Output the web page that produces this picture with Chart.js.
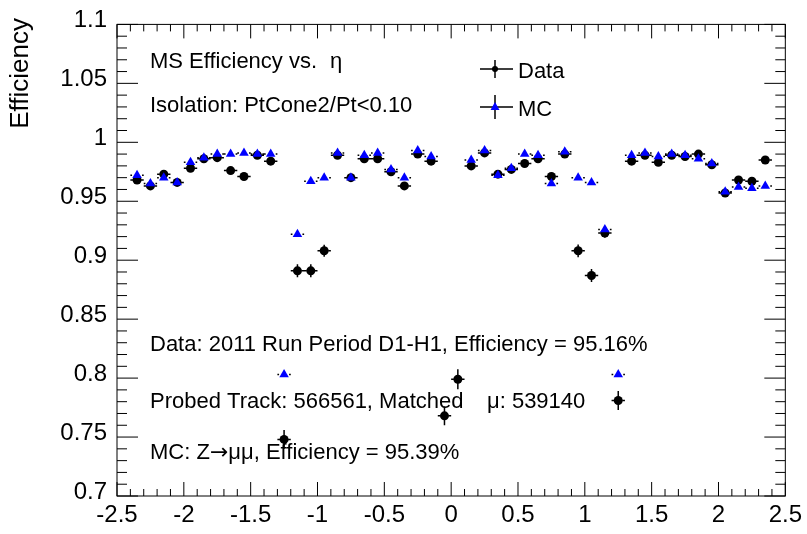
<!DOCTYPE html>
<html>
<head>
<meta charset="utf-8">
<script src="https://cdn.jsdelivr.net/npm/chart.js@4"></script>
<style>
    body { margin: 0; background: #fff; }
    #wrap { width: 807px; height: 534px; position: relative; }
</style>
</head>
<body>
<div id="wrap"><canvas id="effChart"></canvas></div>
<script>
// eta bin centres
const etaBins = [-2.35, -2.25, -2.15, -2.05, -1.95, -1.85, -1.75, -1.65, -1.55, -1.45, -1.35, -1.25,
    -1.15, -1.05, -0.95, -0.85, -0.75, -0.65, -0.55, -0.45, -0.35, -0.25, -0.15, -0.05,
    0.05, 0.15, 0.25, 0.35, 0.45, 0.55, 0.65, 0.75, 0.85, 0.95, 1.05, 1.15,
    1.25, 1.35, 1.45, 1.55, 1.65, 1.75, 1.85, 1.95, 2.05, 2.15, 2.25, 2.35];
const binHalfWidth = 0.05;

// Data efficiency and its error
const dataEff = [0.968, 0.963, 0.973, 0.966, 0.978, 0.986, 0.987, 0.976, 0.971, 0.989, 0.984, 0.748,
    0.891, 0.891, 0.908, 0.989, 0.970, 0.986, 0.986, 0.975, 0.963, 0.990, 0.984, 0.768,
    0.799, 0.980, 0.991, 0.973, 0.977, 0.982, 0.986, 0.971, 0.990, 0.908, 0.887, 0.923,
    0.781, 0.984, 0.989, 0.983, 0.989, 0.988, 0.990, 0.981, 0.957, 0.968, 0.967, 0.985];
const dataErr = [0.003, 0.003, 0.003, 0.003, 0.002, 0.002, 0.002, 0.002, 0.002, 0.002, 0.002, 0.008,
    0.0055, 0.0055, 0.005, 0.002, 0.002, 0.002, 0.002, 0.002, 0.003, 0.002, 0.002, 0.008,
    0.0085, 0.002, 0.002, 0.002, 0.002, 0.002, 0.002, 0.002, 0.002, 0.0054, 0.0055, 0.004,
    0.008, 0.002, 0.002, 0.002, 0.002, 0.002, 0.002, 0.002, 0.003, 0.003, 0.003, 0.002];

// MC efficiency (no entries in the two central bins)
const mcEff = [0.972, 0.965, 0.970, 0.966, 0.983, 0.987, 0.990, 0.990, 0.991, 0.990, 0.990, 0.803,
    0.922, 0.967, 0.970, 0.991, 0.970, 0.989, 0.991, 0.977, 0.970, 0.993, 0.988, null,
    null, 0.985, 0.993, 0.972, 0.978, 0.990, 0.989, 0.965, 0.992, 0.970, 0.966, 0.926,
    0.803, 0.989, 0.991, 0.988, 0.990, 0.989, 0.986, 0.982, 0.958, 0.962, 0.961, 0.963];

const xMin = -2.5, xMax = 2.5;
const yMin = 0.7, yMax = 1.1;

const FONT = '"Liberation Sans", Arial, Helvetica, sans-serif';
const SYMBOL_FONT = '"DejaVu Sans", sans-serif';

// each line is a list of [text, font] pieces, drawn one after another
const textLines = [
    { x: 150, y: 68, parts: [['MS Efficiency vs.', FONT]] },
    { x: 330, y: 68, parts: [['η', FONT]] },
    { x: 150, y: 112, parts: [['Isolation: PtCone2/Pt<0.10', FONT]] },
    { x: 150, y: 351, parts: [['Data: 2011 Run Period D1-H1, Efficiency = 95.16%', FONT]] },
    { x: 150, y: 408, parts: [['Probed Track: 566561, Matched', FONT]] },
    { x: 487, y: 408, parts: [['μ: 539140', FONT]] },
    { x: 150, y: 459, parts: [['MC: Z', FONT], ['→', SYMBOL_FONT], ['μμ, Efficiency = 95.39%', FONT]] }
];

// ROOT-like frame with inward ticks on all four sides
const framePlugin = {
    id: 'frame',
    afterDraw(chart) {
        const { ctx, chartArea: a, scales: { x, y } } = chart;
        ctx.save();
        ctx.strokeStyle = '#000';
        ctx.lineWidth = 1;
        ctx.strokeRect(a.left, a.top, a.right - a.left, a.bottom - a.top);
        ctx.beginPath();
        for (let i = 0; i <= 50; i++) {
            const px = x.getPixelForValue(xMin + i * 0.1);
            const len = i % 5 === 0 ? 14 : 7;
            ctx.moveTo(px, a.bottom); ctx.lineTo(px, a.bottom - len);
            ctx.moveTo(px, a.top); ctx.lineTo(px, a.top + len);
        }
        for (let i = 0; i <= 40; i++) {
            const py = y.getPixelForValue(yMin + i * 0.01);
            const len = i % 5 === 0 ? 21 : 10;
            ctx.moveTo(a.left, py); ctx.lineTo(a.left + len, py);
            ctx.moveTo(a.right, py); ctx.lineTo(a.right - len, py);
        }
        ctx.stroke();

        // y axis title, top aligned like ROOT
        ctx.fillStyle = '#000';
        ctx.font = '26px ' + FONT;
        ctx.translate(21, 18);
        ctx.rotate(-Math.PI / 2);
        ctx.textAlign = 'right';
        ctx.textBaseline = 'middle';
        ctx.fillText('Efficiency', 0, 0);
        ctx.restore();

        // text annotations
        ctx.save();
        ctx.fillStyle = '#000';
        ctx.textBaseline = 'alphabetic';
        textLines.forEach(line => {
            let cx = line.x;
            line.parts.forEach(([txt, fam]) => {
                ctx.font = '22px ' + fam;
                ctx.fillText(txt, cx, line.y);
                cx += ctx.measureText(txt).width;
            });
        });

        // legend
        const drawEntry = (cy, label, isMC) => {
            ctx.strokeStyle = '#000';
            ctx.lineWidth = 1.5;
            ctx.beginPath();
            ctx.moveTo(480, cy); ctx.lineTo(513, cy);
            ctx.moveTo(495, cy - (isMC ? 12 : 9)); ctx.lineTo(495, cy + (isMC ? 12 : 9));
            ctx.stroke();
            ctx.fillStyle = isMC ? '#0000ff' : '#000';
            ctx.beginPath();
            if (isMC) {
                ctx.moveTo(495, cy - 5); ctx.lineTo(499.5, cy + 3); ctx.lineTo(490.5, cy + 3);
                ctx.closePath();
            } else {
                ctx.arc(495, cy, 3, 0, Math.PI * 2);
            }
            ctx.fill();
            ctx.fillStyle = '#000';
            ctx.font = '22px ' + FONT;
            ctx.fillText(label, 518, cy + 9);
        };
        drawEntry(69, 'Data', false);
        drawEntry(107, 'MC', true);
        ctx.restore();
    }
};

// error bars: full bin width horizontally, stat error vertically for data
const errorBarPlugin = {
    id: 'errorBars',
    beforeDatasetsDraw(chart) {
        const { ctx, scales: { x, y } } = chart;
        ctx.save();
        ctx.strokeStyle = '#000';
        ctx.lineWidth = 1.5;
        ctx.beginPath();
        const gap = 4;
        etaBins.forEach((eta, i) => {
            const cx = x.getPixelForValue(eta);
            const x1 = x.getPixelForValue(eta - binHalfWidth);
            const x2 = x.getPixelForValue(eta + binHalfWidth);
            const cy = y.getPixelForValue(dataEff[i]);
            ctx.moveTo(x1, cy); ctx.lineTo(cx - gap, cy);
            ctx.moveTo(cx + gap, cy); ctx.lineTo(x2, cy);
            const yLo = y.getPixelForValue(dataEff[i] - dataErr[i]);
            const yHi = y.getPixelForValue(dataEff[i] + dataErr[i]);
            ctx.moveTo(cx, yHi); ctx.lineTo(cx, yLo);
            if (mcEff[i] !== null) {
                const my = y.getPixelForValue(mcEff[i]);
                ctx.moveTo(x1, my); ctx.lineTo(cx - gap - 1, my);
                ctx.moveTo(cx + gap + 1, my); ctx.lineTo(x2, my);
            }
        });
        ctx.stroke();
        ctx.restore();
    }
};

function initEfficiencyChart() {
    const ctx = document.getElementById('effChart').getContext('2d');

    const dataPoints = etaBins.map((eta, i) => ({ x: eta, y: dataEff[i] }));
    const mcPoints = etaBins
        .map((eta, i) => ({ x: eta, y: mcEff[i] }))
        .filter(p => p.y !== null);

    new Chart(ctx, {
        type: 'scatter',
        data: {
            datasets: [
                {
                    label: 'Data',
                    data: dataPoints,
                    pointStyle: 'circle',
                    pointRadius: 4.5,
                    backgroundColor: '#000',
                    borderColor: '#000',
                    borderWidth: 0,
                    order: 1
                },
                {
                    label: 'MC',
                    data: mcPoints,
                    pointStyle: 'triangle',
                    pointRadius: 5.5,
                    backgroundColor: '#0000ff',
                    borderColor: '#0000ff',
                    borderWidth: 0,
                    order: 0
                }
            ]
        },
        options: {
            responsive: true,
            maintainAspectRatio: false,
            animation: false,
            layout: { padding: { left: 0, top: 14, right: 19, bottom: 0 } },
            plugins: {
                legend: { display: false },
                tooltip: { enabled: false }
            },
            scales: {
                x: {
                    type: 'linear',
                    min: xMin,
                    max: xMax,
                    grid: { display: false, drawTicks: false },
                    border: { display: false },
                    ticks: {
                        stepSize: 0.5,
                        padding: 5,
                        color: '#000',
                        font: { family: FONT, size: 24 },
                        callback: v => String(+v.toFixed(1))
                    },
                    afterFit: s => { s.height = 38; }
                },
                y: {
                    min: yMin,
                    max: yMax,
                    grid: { display: false, drawTicks: false },
                    border: { display: false },
                    ticks: {
                        stepSize: 0.05,
                        padding: 10,
                        labelOffset: -4,
                        color: '#000',
                        font: { family: FONT, size: 24 },
                        callback: v => String(+v.toFixed(2))
                    },
                    afterFit: s => { s.width = 117; }
                }
            }
        },
        plugins: [errorBarPlugin, framePlugin]
    });
}

initEfficiencyChart();
</script>
</body>
</html>
